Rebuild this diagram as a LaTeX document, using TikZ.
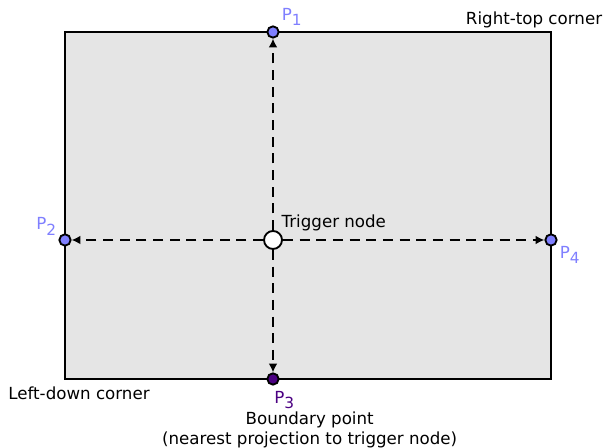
\documentclass[tikz,border=0pt]{standalone}
\usepackage{fontspec}
\setmainfont{DejaVu Sans}
\usepackage{xcolor}
\usetikzlibrary{positioning, arrows.meta}

\definecolor{ptblue}{HTML}{7F7FFF}
\definecolor{ptpurple}{HTML}{4B0082}
\definecolor{areagray}{HTML}{E5E5E5}

\newcommand{\ptname}[1]{P\raisebox{-0.6ex}{\fontsize{11.5}{13}\selectfont #1}}

\begin{document}
\begin{tikzpicture}[
    x=0.75pt, y=0.75pt,
    font=\fontsize{12.5}{15}\selectfont,
    area/.style={draw=black, line width=1.5pt, fill=areagray},
    pt/.style={circle, draw=black, line width=1.4pt, fill=ptblue,
               inner sep=0pt, minimum size=8.5pt},
    trig/.style={circle, draw=black, line width=1.4pt, fill=white,
                 inner sep=0pt, minimum size=13.5pt},
    lbl/.style={inner sep=1pt, align=center},
    ptlbl/.style={inner sep=1pt, text=ptblue},
    arr/.style={-{Latex[length=6.5pt, width=6.5pt]}, line width=1.5pt,
                dash pattern=on 7.5pt off 5pt}
]
    \useasboundingbox (0,0) rectangle (607,448);

    % area
    \coordinate (ld) at (65,69);
    \coordinate (rt) at (551,416);
    \draw[area] (ld) rectangle (rt);

    % projections
    \node[trig] (trig) at (273,208) {};
    \node[pt] (p1) at (273,416) {};
    \node[pt] (p2) at (65,208) {};
    \node[pt, fill=ptpurple] (p3) at (273,69) {};
    \node[pt] (p4) at (551,208) {};

    \draw[arr] (trig) -- (p1);
    \draw[arr] (trig) -- (p2);
    \draw[arr] (trig) -- (p3);
    \draw[arr] (trig) -- (p4);

    % labels
    \node[ptlbl, above right=0pt and 2pt of p1] (l1) {\ptname{1}};
    \node[ptlbl, above left=-1pt and 2pt of p2] (l2) {\ptname{2}};
    \node[ptlbl, text=ptpurple, below=3pt of p3, xshift=8.5pt] (l3) {\ptname{3}};
    \node[ptlbl, below right=0pt and 2pt of p4] (l4) {\ptname{4}};
    \node[lbl, above right=0pt and 0pt of trig] (tlbl) {Trigger node};
    \node[lbl, anchor=south east] (rtlbl) at ([xshift=39.5pt, yshift=2pt]rt) {Right-top corner};
    \node[lbl, below=5pt of ld, xshift=10.5pt] (ldlbl) {Left-down corner};
    \node[lbl, below=0pt of l3, xshift=19pt] (blbl) {Boundary point\\(nearest projection to trigger node)};
\end{tikzpicture}
\end{document}
